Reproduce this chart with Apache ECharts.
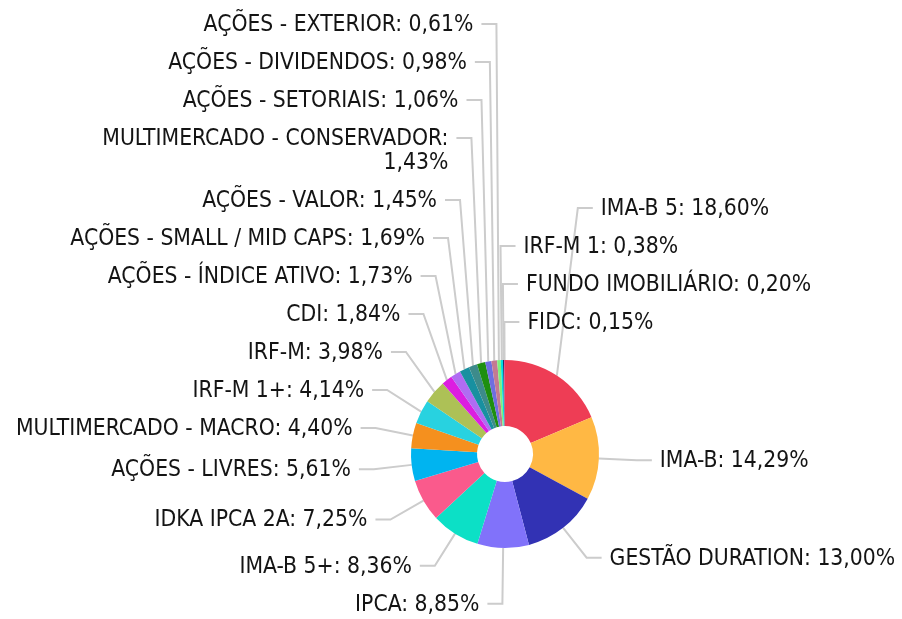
<!DOCTYPE html>
<html>
<head>
<meta charset="utf-8">
<script src="https://cdn.jsdelivr.net/npm/echarts@6/dist/echarts.min.js"></script>
<style>
html,body{margin:0;padding:0;background:#fff;}
#chart{width:902px;height:619px;}
</style>
</head>
<body>
<div id="chart"></div>
<script>
const categories = [
  'IMA-B 5', 'IMA-B', 'GESTÃO DURATION', 'IPCA', 'IMA-B 5+', 'IDKA IPCA 2A',
  'AÇÕES - LIVRES', 'MULTIMERCADO - MACRO', 'IRF-M 1+', 'IRF-M', 'CDI',
  'AÇÕES - ÍNDICE ATIVO', 'AÇÕES - SMALL / MID CAPS', 'AÇÕES - VALOR',
  'MULTIMERCADO - CONSERVADOR', 'AÇÕES - SETORIAIS', 'AÇÕES - DIVIDENDOS',
  'AÇÕES - EXTERIOR', 'IRF-M 1', 'FUNDO IMOBILIÁRIO', 'FIDC'
];
const values = [
  18.60, 14.29, 13.00, 8.85, 8.36, 7.25,
  5.61, 4.40, 4.14, 3.98, 1.84,
  1.73, 1.69, 1.45,
  1.43, 1.06, 0.98,
  0.61, 0.38, 0.20, 0.15
];
const colors = [
  '#ee3d55', '#ffb844', '#3232b4', '#8172fa', '#0ce0c6', '#fa5a8c',
  '#00b4f0', '#f5901e', '#28d2e0', '#adc156', '#dc1ee0',
  '#b06cf2', '#1890a0', '#3d8b8b',
  '#1e8f10', '#6e6ee0', '#c47a92',
  '#7ef07e', '#00e0e0', '#223366', '#e04080'
];

// layout settings
const CX = 505, CY = 454, R_IN = 28, R_OUT = 94;
const LEN1 = 38, LEN2 = 15, GAP = 8, LINE_H = 24, STEP = 38, MAX_W = 360;
const FONT_SIZE = 22.7, FONT_FAMILY = '"DejaVu Sans Condensed", "DejaVu Sans", sans-serif';

const fmt = v => v.toFixed(2).replace('.', ',') + '%';
const ctx = document.createElement('canvas').getContext('2d');
ctx.font = FONT_SIZE + 'px ' + FONT_FAMILY;
const texts = categories.map((c, i) => {
  const a = c + ':', b = fmt(values[i]);
  return ctx.measureText(a + ' ' + b).width > MAX_W ? a + '\n' + b : a + ' ' + b;
});

// label placement computed from the slice angles
const total = values.reduce((s, v) => s + v, 0);
let acc = 0;
const info = values.map((v, i) => {
  const th = (acc + v / 2) / total * 2 * Math.PI;
  acc += v;
  const s = Math.sin(th), c = Math.cos(th);
  return {
    i, th, right: s >= 0 || (c > 0 && s > -0.05),
    p1: [CX + R_OUT * s, CY - R_OUT * c],
    nx: CX + (R_OUT + LEN1) * s,
    ny: CY - (R_OUT + LEN1) * c,
    extra: texts[i].split('\n').length - 1
  };
});
function pushUp(list) {
  for (let k = list.length - 1; k >= 0; k--) {
    const it = list[k];
    it.y = k === list.length - 1 ? it.ny : Math.min(it.ny, list[k + 1].y - STEP - LINE_H * it.extra);
  }
}
function pushDown(list) {
  for (let k = 0; k < list.length; k++) {
    const it = list[k];
    it.y = k === 0 ? it.ny : Math.max(it.ny, list[k - 1].y + STEP + LINE_H * list[k - 1].extra);
  }
}
const byY = (a, b) => a.ny - b.ny;
pushUp(info.filter(d => !d.right && d.ny < CY).sort(byY));
pushDown(info.filter(d => !d.right && d.ny >= CY).sort(byY));
pushUp(info.filter(d => d.right && d.ny < CY).sort((a, b) => a.th - b.th));
pushDown(info.filter(d => d.right && d.ny >= CY).sort(byY));

const chart = echarts.init(document.getElementById('chart'), null, {renderer: 'canvas'});
chart.setOption({
  animation: false,
  color: colors,
  series: [{
    type: 'pie',
    center: [CX, CY],
    radius: [R_IN, R_OUT],
    startAngle: 90,
    clockwise: true,
    avoidLabelOverlap: false,
    data: categories.map((c, i) => ({name: c, value: values[i]})),
    label: {
      show: true,
      position: 'outside',
      formatter: p => texts[p.dataIndex],
      fontFamily: FONT_FAMILY,
      fontSize: FONT_SIZE,
      lineHeight: LINE_H,
      color: '#141414',
      overflow: 'none'
    },
    labelLine: {
      show: true,
      length: LEN1,
      length2: LEN2,
      lineStyle: {color: '#cccccc', width: 2}
    },
    labelLayout: function (params) {
      const it = info[params.dataIndex];
      const dir = it.right ? 1 : -1;
      const x2 = it.nx, x3 = x2 + dir * LEN2;
      return {
        x: x3 + dir * GAP,
        y: it.y - LINE_H / 2 + 1,
        align: it.right ? 'left' : 'right',
        verticalAlign: 'top',
        hideOverlap: false,
        labelLinePoints: [it.p1, [x2, it.y], [x3, it.y]]
      };
    },
    itemStyle: {borderWidth: 0},
    emphasis: {disabled: true}
  }]
});
</script>
</body>
</html>
